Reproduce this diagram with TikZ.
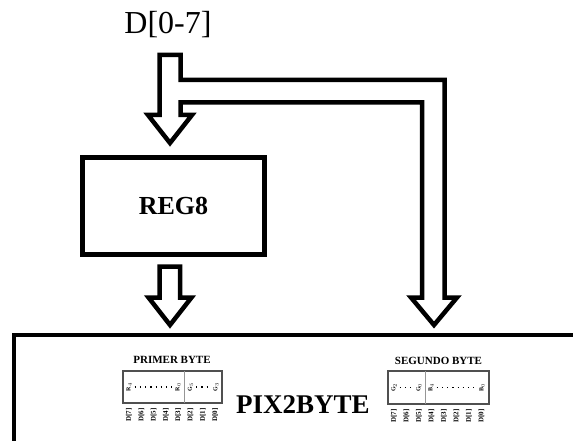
\documentclass[tikz,border=0pt]{standalone}
\usepackage{fontspec}
\setmainfont{Liberation Serif}
\usetikzlibrary{calc}
\definecolor{Boxgray}{RGB}{80,80,80}
\definecolor{Divgray}{RGB}{150,150,150}

\begin{document}
\begin{tikzpicture}[x=1pt,y=-1pt,line join=miter]
\path[use as bounding box] (0,0) rectangle (573,441);
\node[font=\fontsize{32}{34}\selectfont] (bus) at (168,25) {D[0-7]};
\draw[line width=4.5pt] (159.5,55) -- (180.5,55) -- (180.5,80) -- (444.5,80) -- (444.5,297.5) -- (457,297.5) -- (434,325) -- (411,297.5) -- (422,297.5) -- (422,102.5) -- (180.5,102.5) -- (180.5,115) -- (192,115) -- (170,143) -- (148,115) -- (159.5,115) -- cycle;
\node[draw,line width=4.5pt,minimum width=182pt,minimum height=97pt,inner sep=0pt,font=\bfseries\fontsize{26}{28}\selectfont] (reg) at (173.5,206) {REG8};
\draw[line width=4.5pt] (159.5,266.5) -- (180,266.5) -- (180,297.5) -- (191.5,297.5) -- (170,325) -- (148.5,297.5) -- (159.5,297.5) -- cycle;
\draw[line width=4.5pt] (14,442.5) -- (14,335) -- (600,335);
\node[font=\bfseries\fontsize{27}{29}\selectfont] (pix) at (303,405) {PIX2BYTE};
% primer byte
\node[font=\bfseries\fontsize{11}{12}\selectfont] (primer) at (172,360) {PRIMER BYTE};
\draw[line width=1.5pt,Boxgray] (123,371) rectangle (222,403);
\draw[line width=0.8pt,Divgray] (184.5,371) -- (184.5,403);
\node[rotate=90,inner sep=0pt,font=\bfseries\fontsize{6}{7}\selectfont] (r4) at (129,387) {R$_4$};
\node[rotate=90,inner sep=0pt,font=\bfseries\fontsize{6}{7}\selectfont] (r0) at (178,387) {R$_0$};
\node[rotate=90,inner sep=0pt,font=\bfseries\fontsize{6}{7}\selectfont] (g5) at (190.5,387) {G$_5$};
\node[rotate=90,inner sep=0pt,font=\bfseries\fontsize{6}{7}\selectfont] (g3) at (216,387) {G$_3$};
\draw[line width=1.2pt,dash pattern=on 1.2pt off 4pt] ($(r4.south)+(3,0)$) -- ($(r0.north)+(-2,0)$);
\draw[line width=1.2pt,dash pattern=on 1.2pt off 4pt] ($(g5.south)+(3,0)$) -- ($(g3.north)+(-2,0)$);
\node[rotate=90,font=\bfseries\fontsize{7}{8}\selectfont] (p7) at (129,415) {D[7]};
\node[rotate=90,font=\bfseries\fontsize{7}{8}\selectfont] (p6) at (141.3,415) {D[6]};
\node[rotate=90,font=\bfseries\fontsize{7}{8}\selectfont] (p5) at (153.6,415) {D[5]};
\node[rotate=90,font=\bfseries\fontsize{7}{8}\selectfont] (p4) at (165.9,415) {D[4]};
\node[rotate=90,font=\bfseries\fontsize{7}{8}\selectfont] (p3) at (178.2,415) {D[3]};
\node[rotate=90,font=\bfseries\fontsize{7}{8}\selectfont] (p2) at (190.5,415) {D[2]};
\node[rotate=90,font=\bfseries\fontsize{7}{8}\selectfont] (p1) at (202.8,415) {D[1]};
\node[rotate=90,font=\bfseries\fontsize{7}{8}\selectfont] (p0) at (215.1,415) {D[0]};
% segundo byte
\node[font=\bfseries\fontsize{11}{12}\selectfont] (segundo) at (438.5,361) {SEGUNDO BYTE};
\draw[line width=1.5pt,Boxgray] (388,371) rectangle (489,404);
\draw[line width=0.8pt,Divgray] (425,371) -- (425,404);
\node[rotate=90,inner sep=0pt,font=\bfseries\fontsize{6}{7}\selectfont] (g2) at (394,387.5) {G$_2$};
\node[rotate=90,inner sep=0pt,font=\bfseries\fontsize{6}{7}\selectfont] (g0) at (419,387.5) {G$_0$};
\node[rotate=90,inner sep=0pt,font=\bfseries\fontsize{6}{7}\selectfont] (b4) at (431,387.5) {B$_4$};
\node[rotate=90,inner sep=0pt,font=\bfseries\fontsize{6}{7}\selectfont] (b0) at (482,387.5) {B$_0$};
\draw[line width=1.2pt,dash pattern=on 1.2pt off 4pt] ($(g2.south)+(3,0)$) -- ($(g0.north)+(-2,0)$);
\draw[line width=1.2pt,dash pattern=on 1.2pt off 4pt] ($(b4.south)+(3,0)$) -- ($(b0.north)+(-2,0)$);
\node[rotate=90,font=\bfseries\fontsize{7}{8}\selectfont] (s7) at (394,416) {D[7]};
\node[rotate=90,font=\bfseries\fontsize{7}{8}\selectfont] (s6) at (406.5,416) {D[6]};
\node[rotate=90,font=\bfseries\fontsize{7}{8}\selectfont] (s5) at (419,416) {D[5]};
\node[rotate=90,font=\bfseries\fontsize{7}{8}\selectfont] (s4) at (431.5,416) {D[4]};
\node[rotate=90,font=\bfseries\fontsize{7}{8}\selectfont] (s3) at (444,416) {D[3]};
\node[rotate=90,font=\bfseries\fontsize{7}{8}\selectfont] (s2) at (456.5,416) {D[2]};
\node[rotate=90,font=\bfseries\fontsize{7}{8}\selectfont] (s1) at (469,416) {D[1]};
\node[rotate=90,font=\bfseries\fontsize{7}{8}\selectfont] (s0) at (481.5,416) {D[0]};
\end{tikzpicture}
\end{document}
